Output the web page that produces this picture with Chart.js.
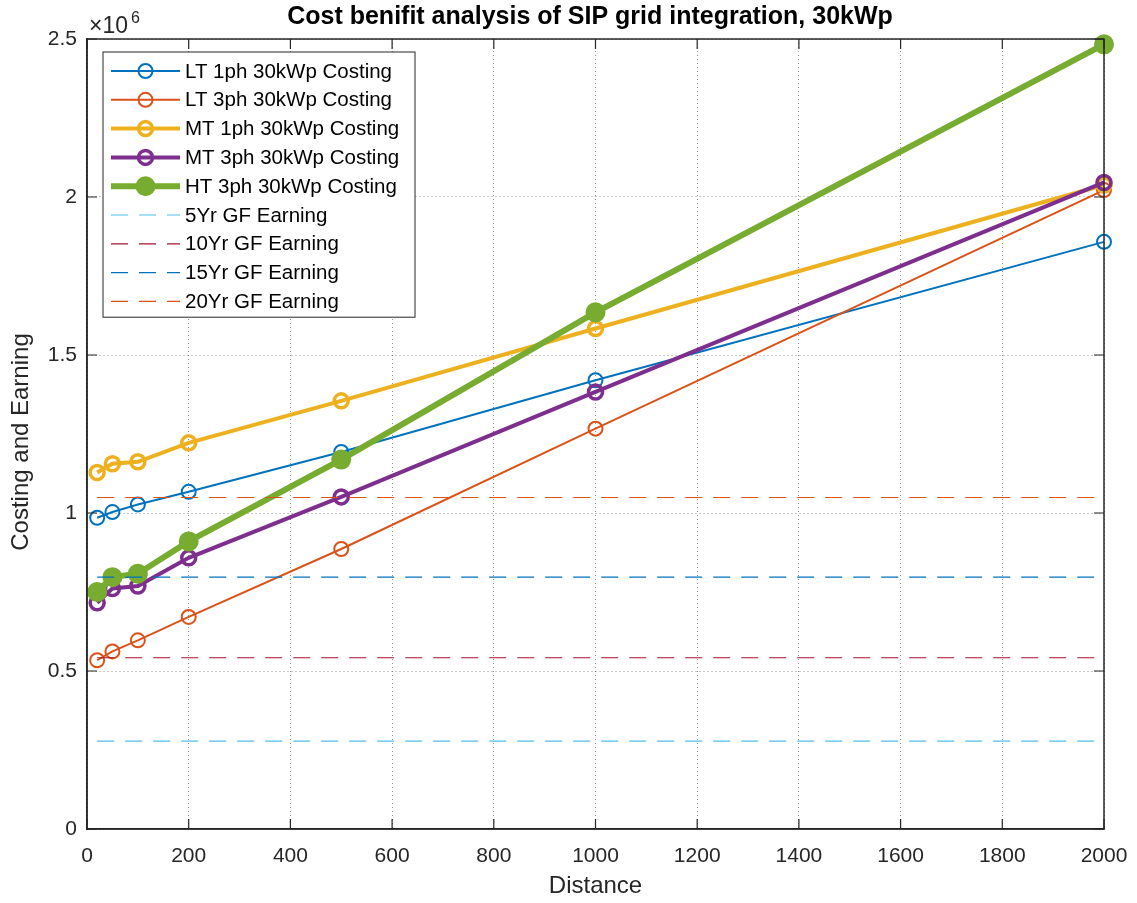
<!DOCTYPE html>
<html lang="en">
<head>
    <meta charset="UTF-8">
    <title>Cost benifit analysis of SIP grid integration, 30kWp</title>
    <script src="https://cdn.jsdelivr.net/npm/chart.js"></script>
    <style>
        body { margin: 0; background: #fff; }
        canvas { display: block; }
    </style>
</head>
<body>
<canvas id="costChart" width="1137" height="903"></canvas>

<script>
    // distances (x values)
    const distances = [20, 50, 100, 200, 500, 1000, 2000];

    // costing series (in rupees)
    const lt1ph = [0.985e6, 1.003e6, 1.027e6, 1.067e6, 1.193e6, 1.420e6, 1.858e6];
    const lt3ph = [0.534e6, 0.562e6, 0.597e6, 0.671e6, 0.886e6, 1.267e6, 2.022e6];
    const mt1ph = [1.128e6, 1.156e6, 1.162e6, 1.222e6, 1.355e6, 1.584e6, 2.038e6];
    const mt3ph = [0.716e6, 0.761e6, 0.769e6, 0.858e6, 1.051e6, 1.383e6, 2.046e6];
    const ht3ph = [0.750e6, 0.797e6, 0.808e6, 0.910e6, 1.169e6, 1.635e6, 2.483e6];

    // grid feed earnings (flat lines)
    const earnLabels = ['5Yr GF Earning', '10Yr GF Earning', '15Yr GF Earning', '20Yr GF Earning'];
    const earnValues = [0.278e6, 0.542e6, 0.797e6, 1.049e6];

    const xTicks = [0, 200, 400, 600, 800, 1000, 1200, 1400, 1600, 1800, 2000];
    const yTicks = [0, 0.5e6, 1e6, 1.5e6, 2e6, 2.5e6];

    const toPoints = vals => vals.map((v, i) => ({x: distances[i], y: v}));

    const font = "'Liberation Sans', Arial, sans-serif";
    const axisColor = '#262626';

    const datasets = [
        {label: 'LT 1ph 30kWp Costing', data: toPoints(lt1ph), borderColor: '#0072BD', borderWidth: 2,
            pointRadius: 7, pointBorderWidth: 2, pointBackgroundColor: 'rgba(0,0,0,0)'},
        {label: 'LT 3ph 30kWp Costing', data: toPoints(lt3ph), borderColor: '#D95319', borderWidth: 2,
            pointRadius: 7, pointBorderWidth: 2, pointBackgroundColor: 'rgba(0,0,0,0)'},
        {label: 'MT 1ph 30kWp Costing', data: toPoints(mt1ph), borderColor: '#EDB120', borderWidth: 4,
            pointRadius: 7, pointBorderWidth: 3.5, pointBackgroundColor: 'rgba(0,0,0,0)'},
        {label: 'MT 3ph 30kWp Costing', data: toPoints(mt3ph), borderColor: '#7E2F8E', borderWidth: 4,
            pointRadius: 7, pointBorderWidth: 3.5, pointBackgroundColor: 'rgba(0,0,0,0)'},
        {label: 'HT 3ph 30kWp Costing', data: toPoints(ht3ph), borderColor: '#77AC30', borderWidth: 6,
            pointRadius: 9, pointBorderWidth: 2, pointBackgroundColor: '#77AC30'}
    ];

    const dashColors = ['#4DBEEE', '#A2142F', '#0072BD', '#D95319'];
    earnValues.forEach((v, i) => {
        datasets.push({
            label: earnLabels[i],
            data: [{x: distances[0], y: v}, {x: distances[distances.length - 1], y: v}],
            borderColor: dashColors[i], borderWidth: 1.2, borderDash: [17, 11],
            pointRadius: 0
        });
    });

    // later series drawn on top, like matlab
    datasets.forEach((d, i) => {
        d.order = 20 - i;
        d.clip = false;
        d.fill = false;
        d.tension = 0;
        d.pointBorderColor = d.borderColor;
        d.pointHoverRadius = d.pointRadius;
    });

    // box, inward ticks, legend, title, exponent
    const matlabLook = {
        id: 'matlabLook',
        afterDraw(chart) {
            const c = chart.ctx;
            const a = chart.chartArea;
            const xs = chart.scales.x, ys = chart.scales.y;
            c.save();
            c.strokeStyle = axisColor;
            c.lineWidth = 1.5;
            c.strokeRect(a.left, a.top, a.right - a.left, a.bottom - a.top);
            c.lineWidth = 1.2;
            c.beginPath();
            xTicks.forEach(t => {
                const px = xs.getPixelForValue(t);
                c.moveTo(px, a.bottom); c.lineTo(px, a.bottom - 10);
                c.moveTo(px, a.top); c.lineTo(px, a.top + 10);
            });
            yTicks.forEach(t => {
                const py = ys.getPixelForValue(t);
                c.moveTo(a.left, py); c.lineTo(a.left + 10, py);
                c.moveTo(a.right, py); c.lineTo(a.right - 10, py);
            });
            c.stroke();

            // title
            c.fillStyle = '#000';
            c.font = 'bold 25px ' + font;
            c.textAlign = 'center';
            c.textBaseline = 'middle';
            c.fillText('Cost benifit analysis of SIP grid integration, 30kWp', 590, 17);

            // y axis title
            c.save();
            c.translate(21, 442);
            c.rotate(-Math.PI / 2);
            c.fillStyle = axisColor;
            c.font = '24px ' + font;
            c.fillText('Costing and Earning', 0, 0);
            c.restore();

            // exponent label
            c.fillStyle = axisColor;
            c.textAlign = 'left';
            c.textBaseline = 'alphabetic';
            c.font = '23px ' + font;
            c.fillText('\u00d710', 89, 33);
            c.font = '16px ' + font;
            c.fillText('6', 131, 23);

            // legend
            const lx = 103, ly = 52, lw = 312, rowH = 28.8;
            const items = chart.data.datasets;
            c.textBaseline = 'middle';
            c.fillStyle = '#fff';
            c.fillRect(lx, ly, lw, rowH * items.length + 6);
            c.strokeStyle = axisColor;
            c.lineWidth = 1;
            c.strokeRect(lx, ly, lw, rowH * items.length + 6);
            items.forEach((d, i) => {
                const y = ly + 19 + i * rowH;
                c.strokeStyle = d.borderColor;
                c.lineWidth = d.borderWidth;
                c.setLineDash(d.borderDash || []);
                c.beginPath();
                c.moveTo(111, y); c.lineTo(180, y);
                c.stroke();
                c.setLineDash([]);
                if (d.pointRadius > 0) {
                    c.beginPath();
                    c.arc(145.5, y, d.pointRadius, 0, Math.PI * 2);
                    c.lineWidth = d.pointBorderWidth;
                    if (d.pointBackgroundColor !== 'rgba(0,0,0,0)') {
                        c.fillStyle = d.pointBackgroundColor;
                        c.fill();
                    }
                    c.stroke();
                }
                c.fillStyle = '#000';
                c.font = '20.5px ' + font;
                c.textAlign = 'left';
                c.fillText(d.label, 185, y + 1);
            });
            c.restore();
        }
    };

    const gridStyle = {
        color: 'rgba(38,38,38,0.5)',
        lineWidth: 1,
        drawTicks: false
    };

    new Chart(document.getElementById('costChart'), {
        type: 'line',
        data: {datasets: datasets},
        plugins: [matlabLook],
        options: {
            responsive: false,
            animation: false,
            events: [],
            layout: {padding: {top: 39, right: 33, left: 0, bottom: 0}},
            plugins: {
                legend: {display: false},
                title: {display: false},
                tooltip: {enabled: false}
            },
            scales: {
                x: {
                    type: 'linear',
                    min: 0, max: 2000,
                    afterBuildTicks: s => { s.ticks = xTicks.map(v => ({value: v})); },
                    afterFit: s => { s.height = 74; s.paddingLeft = 0; s.paddingRight = 0; },
                    grid: gridStyle,
                    border: {display: true, color: axisColor, width: 1.5, dash: [1, 3]},
                    ticks: {color: axisColor, font: {family: font, size: 21}, padding: 15, maxRotation: 0,
                        callback: v => String(v)},
                    title: {display: true, text: 'Distance', color: axisColor,
                        font: {family: font, size: 24}, padding: {top: 0, bottom: 2}}
                },
                y: {
                    min: 0, max: 2.5e6,
                    afterBuildTicks: s => { s.ticks = yTicks.map(v => ({value: v})); },
                    afterFit: s => { s.width = 87; s.paddingTop = 0; s.paddingBottom = 0; },
                    grid: gridStyle,
                    border: {display: true, color: axisColor, width: 1.5, dash: [1, 3]},
                    ticks: {color: axisColor, font: {family: font, size: 21}, padding: 10,
                        callback: v => String(v / 1e6)},
                    title: {display: false}
                }
            }
        }
    });
</script>
</body>
</html>
